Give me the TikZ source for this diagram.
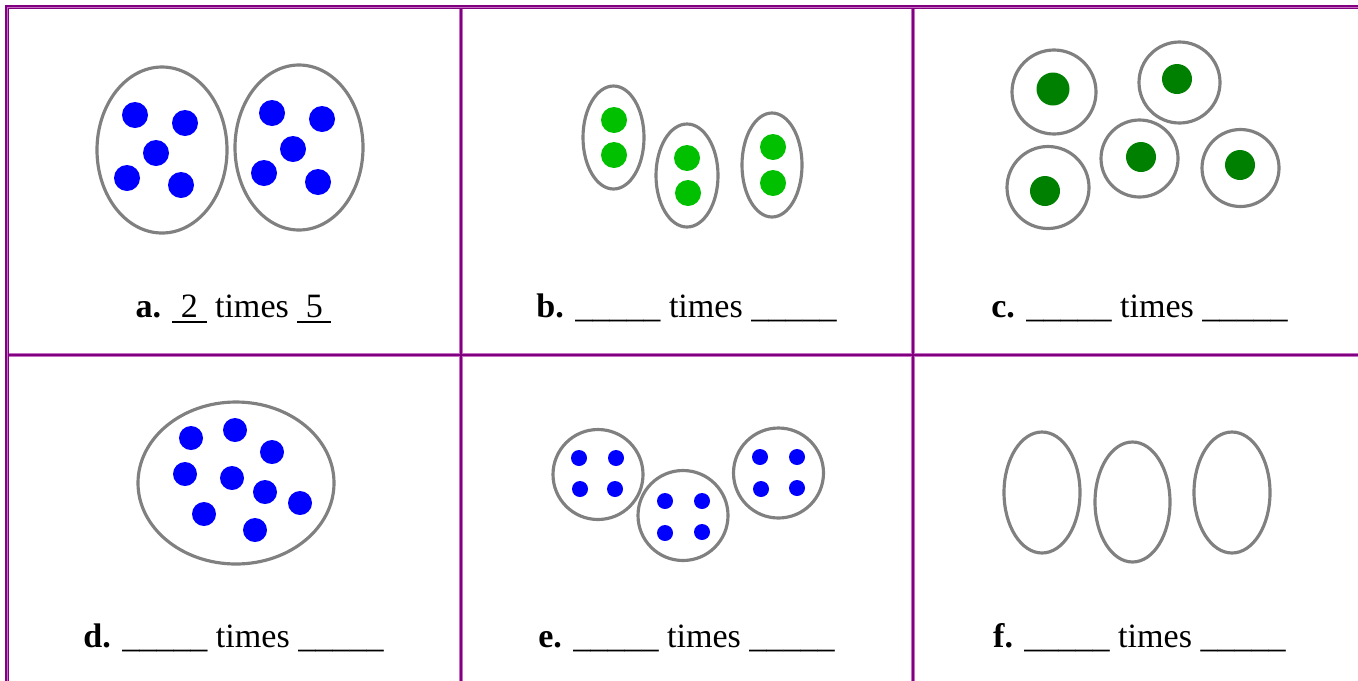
\documentclass[tikz,border=0pt]{standalone}
\usepackage{fontspec}
\setmainfont{Liberation Serif}
\usetikzlibrary{positioning}

\definecolor{tablepurple}{RGB}{128,0,128}
\definecolor{edgepurple}{RGB}{196,110,196}
\definecolor{ringgray}{RGB}{128,128,128}
\definecolor{dotblue}{RGB}{0,0,255}
\definecolor{dotlime}{RGB}{0,192,0}
\definecolor{dotgreen}{RGB}{0,128,0}

\newcommand{\answerblank}{\_\_\_\_\_}
\newsavebox{\answerbox}
\newcommand{\filledblank}[1]{\sbox{\answerbox}{~#1~}%
    \rlap{\rule[-3.2pt]{\wd\answerbox}{1.1pt}}\usebox{\answerbox}}

\begin{document}
\begin{tikzpicture}[x=0.02cm, y=-0.02cm,
    ring/.style={draw=ringgray, line width=1.8pt},
    answer/.style={anchor=base, inner sep=0pt, font=\fontsize{19.4}{23}\selectfont}]
    \useasboundingbox (0,0) rectangle (1358,680);

    % Table grid
    \draw[edgepurple, line width=4*0.02cm] (460.5,7) -- (460.5,700) (913,7) -- (913,700)
        (7,355) -- (1370,355);
    \draw[tablepurple, line width=2*0.02cm] (460.5,7) -- (460.5,700) (913,7) -- (913,700)
        (7,355) -- (1370,355);
    \draw[tablepurple, line width=4*0.02cm] (7,7) rectangle (1370,700);
    \draw[edgepurple, line width=1*0.02cm] (7.5,7.5) rectangle (1370,700);

    % a. two groups of five
    \draw[ring] (162,150) ellipse [x radius=65, y radius=83];
    \draw[ring] (299,147.5) ellipse [x radius=64, y radius=82.5];
    \foreach \p in {(135,115),(185,123),(156,153),(127,178),(181,185),
                    (272,113),(322,119),(293,149),(264,173),(318,182)}
        \fill[dotblue] \p circle (13);
    \node[answer] (capa) at (233.5,317) {\textbf{a.} \filledblank{2} times \filledblank{5}};

    % b. three groups of two
    \draw[ring] (613.5,137.5) ellipse [x radius=30.5, y radius=51.5];
    \draw[ring] (687,175.5) ellipse [x radius=31, y radius=51.5];
    \draw[ring] (772,165) ellipse [x radius=30, y radius=52];
    \foreach \p in {(614,120),(614,155),(687,158),(688,193),(773,147),(773,183)}
        \fill[dotlime] \p circle (13);
    \node[answer] (capb) at (686.5,317) {\textbf{b.} \answerblank{} times \answerblank};

    % c. five groups of one
    \foreach \p/\r in {(1054,92)/42,(1179.5,82.5)/40.5,(1048,187.5)/41,
                       (1139.5,158.5)/38.5,(1240.5,168)/38.5}
        \draw[ring] \p circle (\r);
    \fill[dotgreen] (1053,89) circle (16.5);
    \foreach \p in {(1177,79),(1045,191),(1141,157),(1240,165)}
        \fill[dotgreen] \p circle (15);
    \node[answer] (capc) at (1139.5,317) {\textbf{c.} \answerblank{} times \answerblank};

    % d. one group of nine
    \draw[ring] (236,483) ellipse [x radius=98, y radius=81];
    \foreach \p in {(191,438),(235,430),(272,452),(185,474),(232,478),
                    (265,492),(300,503),(204,514),(255,530)}
        \fill[dotblue] \p circle (12);
    \node[answer] (capd) at (233.5,647) {\textbf{d.} \answerblank{} times \answerblank};

    % e. three groups of four
    \foreach \p in {(598,474.5),(683,515.5),(778.5,473)}
        \draw[ring] \p circle (45);
    \foreach \p in {(579,458),(616,458),(580,489),(615,489),
                    (665,501),(702,501),(665,533),(702,532),
                    (760,457),(797,457),(761,489),(797,488)}
        \fill[dotblue] \p circle (8);
    \node[answer] (cape) at (686.5,647) {\textbf{e.} \answerblank{} times \answerblank};

    % f. three empty groups
    \draw[ring] (1042,492.5) ellipse [x radius=38, y radius=60.5];
    \draw[ring] (1132.5,502) ellipse [x radius=37.5, y radius=60];
    \draw[ring] (1232,492.5) ellipse [x radius=38, y radius=60.5];
    \node[answer] (capf) at (1139.5,647) {\textbf{f.} \answerblank{} times \answerblank};
\end{tikzpicture}
\end{document}
